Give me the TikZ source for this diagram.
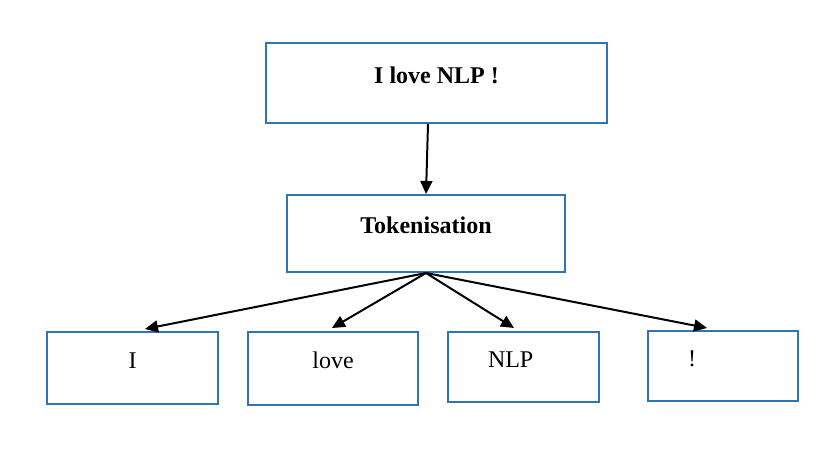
\documentclass[tikz,border=0pt]{standalone}
\usepackage{fontspec}
\setmainfont{Liberation Serif}
\usetikzlibrary{arrows.meta}
\definecolor{boxblue}{HTML}{2E75B6}

\begin{document}
\begin{tikzpicture}[x=1pt, y=-1pt, line width=2pt,
    box/.style={draw=boxblue, inner sep=0pt, text height=12pt, text depth=12pt, font=\fontsize{24}{28}\selectfont},
    boldbox/.style={box, font=\fontsize{24}{28}\selectfont\bfseries},
    leftbox/.style={box, align=left, inner xsep=40pt, text width=#1},
    arr/.style={-{Triangle[length=13pt, width=12pt]}, line width=2pt}]
            \useasboundingbox (0,0) rectangle (838,461);
            \node[boldbox, minimum width=341pt, minimum height=80pt] (sentence) at (436.5,83) {I love NLP !};
            \node[boldbox, minimum width=278pt, minimum height=77pt] (tokenise) at (426,233.5) {Tokenisation};
            \node[box, minimum width=171pt, minimum height=72pt] (tokI) at (132.5,368) {I};
            \node[box, minimum width=170pt, minimum height=73pt] (tokLove) at (333,368.5) {love};
            \node[leftbox=71pt, minimum height=70pt] (tokNLP) at (523.5,367) {NLP};
            \node[leftbox=70pt, minimum height=70pt] (tokExcl) at (723,366) {!};
            \draw[arr] ([xshift=-8.5pt]sentence.south) -- (tokenise.north);
            \draw[arr] (tokenise.south) -- ([xshift=12.5pt, yshift=2pt]tokI.north);
            \draw[arr] (tokenise.south) -- ([xshift=-1pt, yshift=3pt]tokLove.north);
            \draw[arr] (tokenise.south) -- ([xshift=-9.5pt, yshift=3pt]tokNLP.north);
            \draw[arr] (tokenise.south) -- ([xshift=-16pt, yshift=2pt]tokExcl.north);
        \end{tikzpicture}
\end{document}
